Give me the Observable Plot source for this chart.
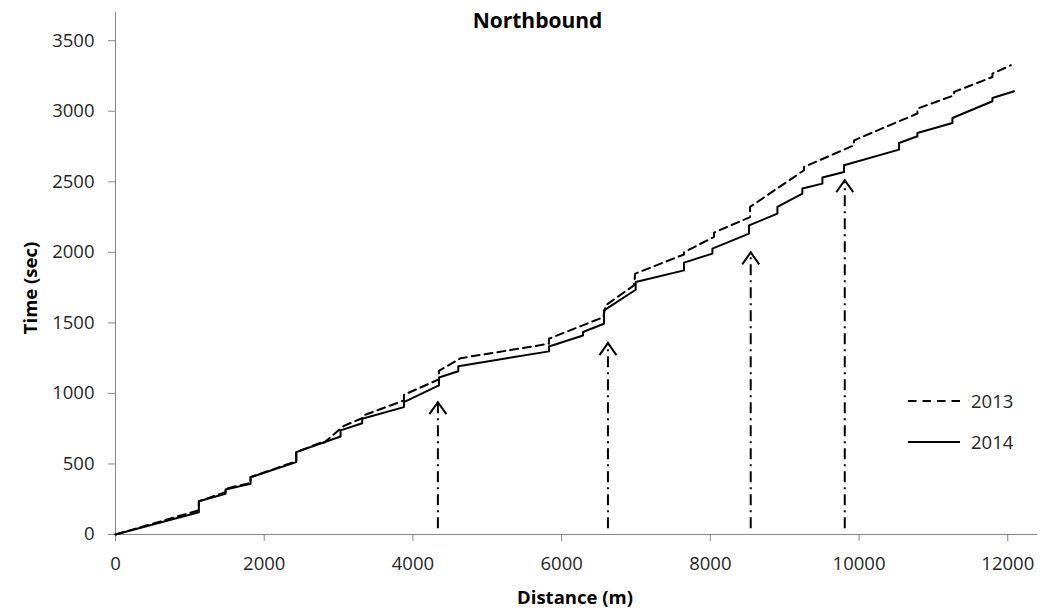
<!DOCTYPE html>
<html>
<head>
<meta charset="utf-8">
<script src="https://cdn.jsdelivr.net/npm/d3@7"></script>
<script src="https://cdn.jsdelivr.net/npm/@observablehq/plot@0.6"></script>
<style>
  html, body { margin: 0; padding: 0; background: #fff; }
  #wrap { position: relative; width: 1048px; height: 615px; font-family: "Open Sans", sans-serif; }
  #overlay { position: absolute; left: 0; top: 0; pointer-events: none; }
</style>
</head>
<body>
<div id="wrap"></div>
<script>
// ---- data (distance in m, cumulative time in sec) ----
const dist2014 = [0, 1121, 1121, 1480, 1480, 1816, 1816, 2431, 2431, 3027, 3027, 3318, 3318, 3879, 3879, 4350, 4350, 4610, 4610, 5830, 5830, 6287, 6287, 6570, 6570, 6996, 6996, 7646, 7646, 8028, 8028, 8520, 8520, 8902, 8902, 9238, 9238, 9507, 9507, 9798, 9798, 10538, 10538, 10785, 10785, 11256, 11256, 11794, 11794, 12085];
const time2014 = [0, 158, 236, 289, 319, 359, 406, 513, 584, 695, 738, 789, 820, 903, 938, 1057, 1113, 1157, 1193, 1298, 1333, 1411, 1435, 1494, 1589, 1735, 1790, 1872, 1927, 1991, 2026, 2133, 2191, 2274, 2322, 2416, 2452, 2487, 2530, 2570, 2617, 2728, 2775, 2823, 2846, 2917, 2952, 3071, 3094, 3142];

const dist2013 = [0, 1121, 1121, 1480, 1480, 1816, 1816, 2431, 2431, 2803, 2803, 3072, 3341, 3341, 3879, 3879, 4350, 4350, 4641, 5830, 5830, 6560, 6592, 6973, 6990, 7646, 7646, 8050, 8050, 8534, 8534, 9260, 9260, 9933, 9933, 10785, 10785, 11279, 11279, 11794, 11794, 12041];
const time2013 = [0, 172, 236, 300, 325, 365, 406, 520, 584, 660, 650, 770, 830, 845, 950, 990, 1100, 1160, 1250, 1352, 1388, 1540, 1624, 1766, 1849, 1985, 2000, 2110, 2140, 2250, 2322, 2582, 2605, 2759, 2794, 2984, 3019, 3113, 3137, 3243, 3267, 3326];

const arrowDist = [4336, 6623, 8543, 9808];
const arrowTip = [938, 1357, 2000, 2511];
const arrowBase = [40, 40, 40, 40];

const xTicks = [0, 2000, 4000, 6000, 8000, 10000, 12000];
const yTicks = [0, 500, 1000, 1500, 2000, 2500, 3000, 3500];
const seriesNames = ["2013", "2014"];

// ---- tables ----
const rows2014 = dist2014.map((d, i) => ({d, t: time2014[i]}));
const rows2013 = dist2013.map((d, i) => ({d, t: time2013[i]}));
const arrows = arrowDist.map((x, i) => ({x, tip: arrowTip[i], base: arrowBase[i]}));

const chevron = {
  draw(context) {
    context.moveTo(-8.5, 12);
    context.lineTo(0, 0);
    context.lineTo(8.5, 12);
  }
};

const axisGray = "#868686";
const textColor = "#262626";

const chart = Plot.plot({
  width: 1048,
  height: 615,
  marginLeft: 115,
  marginRight: 11,
  marginTop: 12,
  marginBottom: 81,
  x: {domain: [0, 12400]},
  y: {domain: [0, 3700]},
  style: {fontFamily: "'Open Sans', sans-serif", fontSize: "18.5px", color: textColor, background: "white"},
  marks: [
    Plot.ruleY([0], {stroke: axisGray, strokeWidth: 1}),
    Plot.ruleX([0], {stroke: axisGray, strokeWidth: 1}),
    Plot.axisX(xTicks, {tickSize: 7, tickPadding: 15, stroke: axisGray, fill: textColor, tickFormat: d => String(d), label: null}),
    Plot.axisY(yTicks, {tickSize: 7, tickPadding: 14, stroke: axisGray, fill: textColor, tickFormat: d => String(d), label: null}),
    Plot.ruleX(arrows, {x: "x", y1: "base", y2: "tip", stroke: "black", strokeWidth: 2, strokeDasharray: "11,5,2,5"}),
    Plot.dot(arrows, {x: "x", y: "tip", symbol: chevron, r: 5, stroke: "black", fill: "none", strokeWidth: 2}),
    Plot.line(rows2013, {x: "d", y: "t", stroke: "black", strokeWidth: 2, strokeDasharray: "8,5"}),
    Plot.line(rows2014, {x: "d", y: "t", stroke: "black", strokeWidth: 2})
  ]
});

const wrap = document.getElementById("wrap");
wrap.appendChild(chart);

// overlay: title, axis titles, legend
const ns = "http://www.w3.org/2000/svg";
const ov = document.createElementNS(ns, "svg");
ov.setAttribute("id", "overlay");
ov.setAttribute("width", 1048);
ov.setAttribute("height", 615);
ov.setAttribute("font-family", "'Open Sans', sans-serif");
function txt(s, attrs) {
  const t = document.createElementNS(ns, "text");
  for (const k in attrs) t.setAttribute(k, attrs[k]);
  t.textContent = s;
  ov.appendChild(t);
  return t;
}
function ln(attrs) {
  const l = document.createElementNS(ns, "line");
  for (const k in attrs) l.setAttribute(k, attrs[k]);
  ov.appendChild(l);
}
txt("Northbound", {x: 537.5, y: 28, "text-anchor": "middle", "font-weight": "bold", "font-size": 21, fill: "#000"});
txt("Distance (m)", {x: 575, y: 604, "text-anchor": "middle", "font-weight": "bold", "font-size": 18.5, fill: "#000"});
txt("Time (sec)", {transform: "translate(37,288) rotate(-90)", "text-anchor": "middle", "font-weight": "bold", "font-size": 18.5, fill: "#000"});
ln({x1: 908, x2: 960, y1: 401, y2: 401, stroke: "black", "stroke-width": 2, "stroke-dasharray": "8.5,6"});
txt(seriesNames[0], {x: 971, y: 407.5, "font-size": 18.5, fill: textColor});
ln({x1: 908, x2: 960, y1: 442, y2: 442, stroke: "black", "stroke-width": 2});
txt(seriesNames[1], {x: 971, y: 448.5, "font-size": 18.5, fill: textColor});
wrap.appendChild(ov);
</script>
</body>
</html>
